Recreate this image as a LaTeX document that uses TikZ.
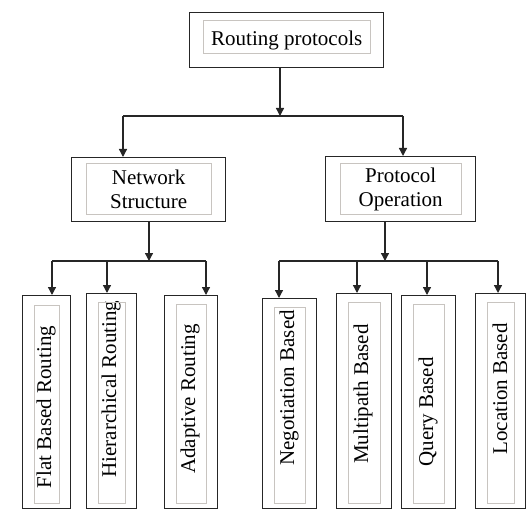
\documentclass[tikz,border=0pt]{standalone}
\usepackage{fontspec}
\setmainfont{Liberation Serif}
\usetikzlibrary{arrows.meta}

\definecolor{linecol}{HTML}{262626}
\definecolor{framecol}{HTML}{C8C4C0}

\begin{document}
\begin{tikzpicture}[x=1pt, y=-1pt,
    box/.style={draw=linecol, line width=1.4pt, inner sep=0pt,
      anchor=north west, align=center,
      font=\fontsize{21}{24}\selectfont},
    vlabel/.style={rotate=90, inner sep=0pt, xshift=3pt,
      font=\fontsize{21}{24}\selectfont},
    frame/.style={draw=framecol, line width=0.8pt},
    link/.style={draw=linecol, line width=1.3pt},
    arr/.style={link, -{Triangle[length=8pt,width=8pt]}}]
  \useasboundingbox (0,0) rectangle (526,510);

  % top levels
  \node[box, minimum width=194pt, minimum height=55pt] (root) at (189,12)
        {Routing protocols};
  \node[box, minimum width=154pt, minimum height=64pt] (net) at (71,157)
        {Network\\Structure};
  \node[box, minimum width=150pt, minimum height=65pt] (proto) at (325,156)
        {Protocol\\Operation};

  % leaves
  \foreach \n/\xa/\xb/\ya in {flat/22/70/295, hier/86/136/293, adap/164/217/295,
      nego/262/316/298, multi/336/391/293, query/401/455/295, loc/475/525/293}
    \node[box, minimum width={\xb-\xa}, minimum height={508-\ya}]
          (\n) at (\xa,\ya) {};

  \node[vlabel] (flat-t)  at (46,410)  {Flat Based Routing};
  \node[vlabel] (hier-t)  at (111,392) {Hierarchical Routing};
  \node[vlabel] (adap-t)  at (190,402) {Adaptive Routing};
  \node[vlabel] (nego-t)  at (289,391) {Negotiation Based};
  \node[vlabel] (multi-t) at (363,397) {Multipath Based};
  \node[vlabel] (query-t) at (428,415) {Query Based};
  \node[vlabel] (loc-t)   at (500,392) {Location Based};

  % inner frames
  \foreach \n/\dx/\dt/\db in {root/14/8/15, net/15/6/8, proto/15/7/8,
      flat/12/10/6, hier/12/9/6, adap/12/9/6, nego/12/9/6,
      multi/12/9/6, query/12/9/6, loc/12/9/6}
    \draw[frame] ([shift={(\dx,\dt)}]\n.north west)
          rectangle ([shift={(-\dx,-\db)}]\n.south east);

  % connectors
  \coordinate (b0) at (280,116);
  \coordinate (bl) at (123,116);
  \coordinate (br) at (403,116);
  \draw[arr] (root.south -| b0) -- (b0);
  \draw[link] (bl) -- (br);
  \draw[arr] (bl) -- (bl |- net.north);
  \draw[arr] (br) -- (br |- proto.north);

  \coordinate (nb) at (149,261);
  \coordinate (nb1) at (52,261);
  \coordinate (nb2) at (107,261);
  \coordinate (nb3) at (206,261);
  \draw[arr] (net.south -| nb) -- (nb);
  \draw[link] (nb1) -- (nb3);
  \foreach \c/\n in {nb1/flat, nb2/hier, nb3/adap}
    \draw[arr] (\c) -- (\c |- \n.north);

  \coordinate (pb) at (385,261);
  \coordinate (pb1) at (279,261);
  \coordinate (pb2) at (357,261);
  \coordinate (pb3) at (427,261);
  \coordinate (pb4) at (498,261);
  \draw[arr] (proto.south -| pb) -- (pb);
  \draw[link] (pb1) -- (pb4);
  \foreach \c/\n in {pb1/nego, pb2/multi, pb3/query, pb4/loc}
    \draw[arr] (\c) -- (\c |- \n.north);
\end{tikzpicture}
\end{document}
